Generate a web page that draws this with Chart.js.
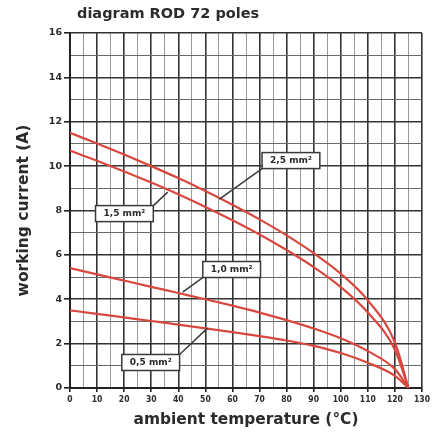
<!DOCTYPE html>
<html>
<head>
<meta charset="utf-8">
<script src="https://cdn.jsdelivr.net/npm/chart.js@4/dist/chart.umd.min.js"></script>
<style>
  html, body { margin: 0; padding: 0; background: #fff; }
  #wrap { width: 438px; height: 432px; }
</style>
</head>
<body>
<div id="wrap"><canvas id="chart" width="438" height="432"></canvas></div>
<script>
// ambient temperature (°C)
const temps = [0, 10, 20, 30, 40, 50, 60, 70, 80, 90, 100, 110, 120, 125];
// working current (A) per conductor section
const cur25 = [11.5, 11.02, 10.52, 10.0, 9.46, 8.88, 8.26, 7.6, 6.88, 6.08, 5.15, 3.95, 2.05, 0];
const cur15 = [10.7, 10.24, 9.76, 9.26, 8.73, 8.16, 7.56, 6.92, 6.22, 5.45, 4.55, 3.4, 1.72, 0];
const cur10 = [5.4, 5.12, 4.84, 4.56, 4.28, 4.0, 3.71, 3.4, 3.06, 2.68, 2.24, 1.66, 0.85, 0];
const cur05 = [3.5, 3.34, 3.18, 3.02, 2.86, 2.69, 2.52, 2.34, 2.14, 1.9, 1.58, 1.14, 0.55, 0];
const sections = ['2,5 mm²', '1,5 mm²', '1,0 mm²', '0,5 mm²'];

const RED = '#d8483e';
const INK = '#2b2b2b';

const points = vals => temps.map((t, i) => ({ x: t, y: vals[i] }));

// callout boxes, placed in data units: box centre and the point on the curve
const callouts = [
  { text: sections[0], bx: 81.6, by: 10.25, ax: 55.2, ay: 8.51 },
  { text: sections[1], bx: 20.1, by: 7.86, ax: 36.1, ay: 8.83 },
  { text: sections[2], bx: 59.7, by: 5.34, ax: 41.6, ay: 4.32 },
  { text: sections[3], bx: 29.8, by: 1.15, ax: 50.8, ay: 2.70 }
];

const calloutPlugin = {
  id: 'callouts',
  afterDatasetsDraw(chart) {
    const { ctx, scales: { x, y } } = chart;
    ctx.save();
    ctx.font = 'bold 9px "DejaVu Sans", sans-serif';
    callouts.forEach(c => {
      const cx = x.getPixelForValue(c.bx), cy = y.getPixelForValue(c.by);
      const px = x.getPixelForValue(c.ax), py = y.getPixelForValue(c.ay);
      const w = ctx.measureText(c.text).width + 16, h = 16;
      const ex = cx + Math.sign(px - cx) * w / 2;
      const ey = cy + Math.sign(py - cy) * h / 2;
      ctx.strokeStyle = '#3a3a3a';
      ctx.lineWidth = 1.5;
      ctx.beginPath();
      ctx.moveTo(ex, ey);
      ctx.lineTo(px, py);
      ctx.stroke();
      ctx.fillStyle = '#fff';
      ctx.fillRect(cx - w / 2, cy - h / 2, w, h);
      ctx.strokeRect(cx - w / 2, cy - h / 2, w, h);
      ctx.fillStyle = INK;
      ctx.textAlign = 'center';
      ctx.textBaseline = 'middle';
      ctx.fillText(c.text, cx, cy + 0.5);
    });
    ctx.restore();
  }
};

const titlePlugin = {
  id: 'topTitle',
  afterDraw(chart) {
    const { ctx, chartArea } = chart;
    ctx.save();
    ctx.font = 'bold 14.5px "DejaVu Sans", sans-serif';
    ctx.fillStyle = INK;
    ctx.textBaseline = 'alphabetic';
    ctx.fillText('diagram ROD 72 poles', chartArea.left + 7, 18);
    ctx.restore();
  }
};

const line = (vals) => ({
  data: points(vals),
  borderColor: RED,
  borderWidth: 2.2,
  pointRadius: 0,
  cubicInterpolationMode: 'monotone',
  fill: false
});

new Chart(document.getElementById('chart'), {
  type: 'line',
  data: { datasets: [line(cur25), line(cur15), line(cur10), line(cur05)] },
  options: {
    responsive: false,
    animation: false,
    layout: { padding: { top: 33, right: 16, left: 0, bottom: 0 } },
    plugins: { legend: { display: false }, tooltip: { enabled: false } },
    scales: {
      x: {
        type: 'linear',
        min: 0,
        max: 130,
        afterFit: s => { s.height = 44; },
        ticks: {
          stepSize: 5,
          autoSkip: false,
          maxRotation: 0,
          padding: 3,
          color: INK,
          font: { family: '"DejaVu Sans Condensed", "DejaVu Sans", sans-serif', weight: 'bold', size: 8.5 },
          callback: v => (v % 10 === 0 ? v : '')
        },
        grid: {
          color: c => (c.tick && c.tick.value % 10 === 0 ? '#333' : '#9a9a9a'),
          lineWidth: c => (c.tick && c.tick.value % 10 === 0 ? 1.6 : 1),
          tickColor: c => (c.tick && c.tick.value % 10 === 0 ? '#222' : 'rgba(0,0,0,0)'),
          tickLength: 4
        },
        border: { display: true, color: '#222', width: 2 },
        title: {
          display: true,
          text: 'ambient temperature (°C)',
          color: INK,
          font: { family: '"DejaVu Sans", sans-serif', weight: 'bold', size: 15.4 },
          padding: { top: 0, bottom: 3 }
        }
      },
      y: {
        min: 0,
        max: 16,
        afterFit: s => { s.width = 70; },
        ticks: {
          stepSize: 1,
          padding: 2,
          color: INK,
          font: { family: '"DejaVu Sans", sans-serif', weight: 'bold', size: 9.5 },
          callback: v => (v % 2 === 0 ? v : '')
        },
        grid: {
          color: c => (c.tick && c.tick.value % 2 === 0 ? '#333' : '#6a6a6a'),
          lineWidth: c => (c.tick && c.tick.value % 2 === 0 ? 1.6 : 1),
          tickColor: c => (c.tick && c.tick.value % 2 === 0 ? '#222' : 'rgba(0,0,0,0)'),
          tickLength: 6
        },
        border: { display: true, color: '#222', width: 2 },
        title: {
          display: true,
          text: 'working current (A)',
          color: INK,
          font: { family: '"DejaVu Sans", sans-serif', weight: 'bold', size: 15.5 },
          padding: { top: 15, bottom: 0 }
        }
      }
    }
  },
  plugins: [calloutPlugin, titlePlugin]
});
</script>
</body>
</html>
